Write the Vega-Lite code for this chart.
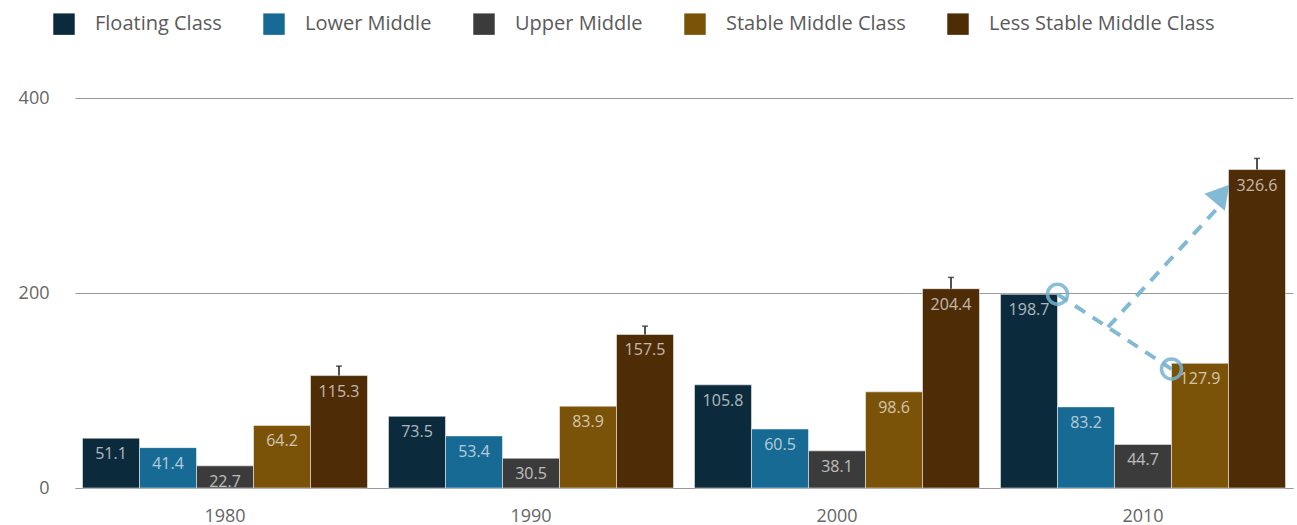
{
  "$schema": "https://vega.github.io/schema/vega-lite/v6.json",
  "autosize": "none",
  "width": 1218,
  "height": 390,
  "padding": {"left": 75, "top": 98, "right": 4, "bottom": 37},
  "background": "white",
  "config": {
    "view": {"stroke": null},
    "font": "Open Sans",
    "axis": {"labelFont": "Open Sans", "labelColor": "#666666", "labelFontSize": 18, "title": null},
    "legend": {"labelFont": "Open Sans", "labelColor": "#5a5a5a", "labelFontSize": 20}
  },
  "datasets": {
    "bars": [
      {"year": "1980", "category": "Floating Class", "value": 51.1},
      {"year": "1980", "category": "Lower Middle", "value": 41.4},
      {"year": "1980", "category": "Upper Middle", "value": 22.7},
      {"year": "1980", "category": "Stable Middle Class", "value": 64.2},
      {"year": "1980", "category": "Less Stable Middle Class", "value": 115.3, "hi": 125},
      {"year": "1990", "category": "Floating Class", "value": 73.5},
      {"year": "1990", "category": "Lower Middle", "value": 53.4},
      {"year": "1990", "category": "Upper Middle", "value": 30.5},
      {"year": "1990", "category": "Stable Middle Class", "value": 83.9},
      {"year": "1990", "category": "Less Stable Middle Class", "value": 157.5, "hi": 166},
      {"year": "2000", "category": "Floating Class", "value": 105.8},
      {"year": "2000", "category": "Lower Middle", "value": 60.5},
      {"year": "2000", "category": "Upper Middle", "value": 38.1},
      {"year": "2000", "category": "Stable Middle Class", "value": 98.6},
      {"year": "2000", "category": "Less Stable Middle Class", "value": 204.4, "hi": 216},
      {"year": "2010", "category": "Floating Class", "value": 198.7},
      {"year": "2010", "category": "Lower Middle", "value": 83.2},
      {"year": "2010", "category": "Upper Middle", "value": 44.7},
      {"year": "2010", "category": "Stable Middle Class", "value": 127.9},
      {"year": "2010", "category": "Less Stable Middle Class", "value": 326.6, "hi": 338}
    ],
    "trend": [
      {"year": "2010", "category": "Lower Middle", "value": 198.7},
      {"year": "2010", "category": "Stable Middle Class", "value": 122}
    ],
    "arrow": [
      {"year": "2010", "category": "Lower Middle", "value": 165},
      {"year": "2010", "category": "Stable Middle Class", "value": 292}
    ],
    "arrowhead": [
      {"year": "2010", "category": "Stable Middle Class", "value": 302}
    ]
  },
  "resolve": {"scale": {"xOffset": "independent"}},
  "layer": [
    {
      "data": {"name": "bars"},
      "mark": {"type": "bar", "stroke": "#ffffff", "strokeWidth": 1, "strokeOpacity": 0.5},
      "encoding": {
        "x": {"field": "year", "type": "nominal",
          "scale": {"paddingInner": 0.0686, "paddingOuter": 0.0245},
          "axis": {"labelAngle": 0, "ticks": false, "domainColor": "#999999", "domainWidth": 1.2, "labelPadding": 19}},
        "xOffset": {"field": "category", "type": "nominal",
          "scale": {"type": "band", "domain": ["Floating Class", "Lower Middle", "Upper Middle", "Stable Middle Class", "Less Stable Middle Class"], "paddingInner": 0, "paddingOuter": 0}},
        "y": {"field": "value", "type": "quantitative",
          "scale": {"domain": [0, 400], "nice": false},
          "axis": {"values": [0, 200, 400], "domain": false, "ticks": false, "labelPadding": 26, "gridColor": "#999999", "gridWidth": 1.2}},
        "color": {"field": "category", "type": "nominal",
          "scale": {"domain": ["Floating Class", "Lower Middle", "Upper Middle", "Stable Middle Class", "Less Stable Middle Class"],
            "range": ["#0b2a3c", "#176a93", "#3b3b3b", "#7a5308", "#4e2c06"]},
          "legend": {"title": null, "orient": "none", "direction": "horizontal", "legendX": -22, "legendY": -85,
            "symbolType": "square", "symbolSize": 460, "symbolStrokeWidth": 0, "symbolOpacity": 1,
            "labelOffset": 20, "columnPadding": 41, "labelLimit": 400}}
      }
    },
    {
      "data": {"name": "bars"},
      "mark": {"type": "text", "baseline": "middle", "dy": 16, "fontSize": 16, "fill": "#ffffff", "opacity": 0.66},
      "encoding": {
        "x": {"field": "year", "type": "nominal"},
        "xOffset": {"field": "category", "type": "nominal",
          "scale": {"type": "band", "domain": ["Floating Class", "Lower Middle", "Upper Middle", "Stable Middle Class", "Less Stable Middle Class"], "paddingInner": 0, "paddingOuter": 0}},
        "y": {"field": "value", "type": "quantitative"},
        "text": {"field": "value", "type": "quantitative", "format": ".1f"}
      }
    },
    {
      "data": {"name": "bars"},
      "transform": [{"filter": "isValid(datum.hi)"}],
      "mark": {"type": "rule", "color": "#1a1a1a", "strokeWidth": 1.5},
      "encoding": {
        "x": {"field": "year", "type": "nominal"},
        "xOffset": {"field": "category", "type": "nominal",
          "scale": {"type": "band", "domain": ["Floating Class", "Lower Middle", "Upper Middle", "Stable Middle Class", "Less Stable Middle Class"], "paddingInner": 0, "paddingOuter": 0}},
        "y": {"field": "value", "type": "quantitative"},
        "y2": {"field": "hi"}
      }
    },
    {
      "data": {"name": "bars"},
      "transform": [{"filter": "isValid(datum.hi)"}],
      "mark": {"type": "tick", "orient": "horizontal", "color": "#1a1a1a", "size": 6, "thickness": 1.5},
      "encoding": {
        "x": {"field": "year", "type": "nominal"},
        "xOffset": {"field": "category", "type": "nominal",
          "scale": {"type": "band", "domain": ["Floating Class", "Lower Middle", "Upper Middle", "Stable Middle Class", "Less Stable Middle Class"], "paddingInner": 0, "paddingOuter": 0}},
        "y": {"field": "hi", "type": "quantitative"}
      }
    },
    {
      "data": {"name": "trend"},
      "mark": {"type": "line", "color": "#74b3d2", "strokeWidth": 4, "strokeDash": [12, 9], "opacity": 0.9},
      "encoding": {
        "x": {"field": "year", "type": "nominal"},
        "xOffset": {"field": "category", "type": "nominal",
          "scale": {"type": "band", "domain": ["Floating Class", "Lower Middle", "Upper Middle", "Stable Middle Class", "Less Stable Middle Class"], "range": [-28.5, 256.5], "paddingInner": 0, "paddingOuter": 0}},
        "y": {"field": "value", "type": "quantitative"}
      }
    },
    {
      "data": {"name": "trend"},
      "mark": {"type": "point", "shape": "circle", "size": 400, "stroke": "#74b3d2", "strokeWidth": 3.5, "filled": false, "opacity": 0.85},
      "encoding": {
        "x": {"field": "year", "type": "nominal"},
        "xOffset": {"field": "category", "type": "nominal",
          "scale": {"type": "band", "domain": ["Floating Class", "Lower Middle", "Upper Middle", "Stable Middle Class", "Less Stable Middle Class"], "range": [-28.5, 256.5], "paddingInner": 0, "paddingOuter": 0}},
        "y": {"field": "value", "type": "quantitative"}
      }
    },
    {
      "data": {"name": "arrow"},
      "mark": {"type": "line", "color": "#74b3d2", "strokeWidth": 4, "strokeDash": [12, 9], "opacity": 0.9},
      "encoding": {
        "x": {"field": "year", "type": "nominal"},
        "xOffset": {"field": "category", "type": "nominal",
          "scale": {"type": "band", "domain": ["Floating Class", "Lower Middle", "Upper Middle", "Stable Middle Class", "Less Stable Middle Class"], "range": [22, 307], "paddingInner": 0, "paddingOuter": 0}},
        "y": {"field": "value", "type": "quantitative"}
      }
    },
    {
      "data": {"name": "arrowhead"},
      "mark": {"type": "point", "shape": "triangle-up", "size": 700, "filled": true, "color": "#74b3d2", "opacity": 0.9, "angle": 40},
      "encoding": {
        "x": {"field": "year", "type": "nominal"},
        "xOffset": {"field": "category", "type": "nominal",
          "scale": {"type": "band", "domain": ["Floating Class", "Lower Middle", "Upper Middle", "Stable Middle Class", "Less Stable Middle Class"], "range": [22, 307], "paddingInner": 0, "paddingOuter": 0}},
        "y": {"field": "value", "type": "quantitative"}
      }
    }
  ]
}
